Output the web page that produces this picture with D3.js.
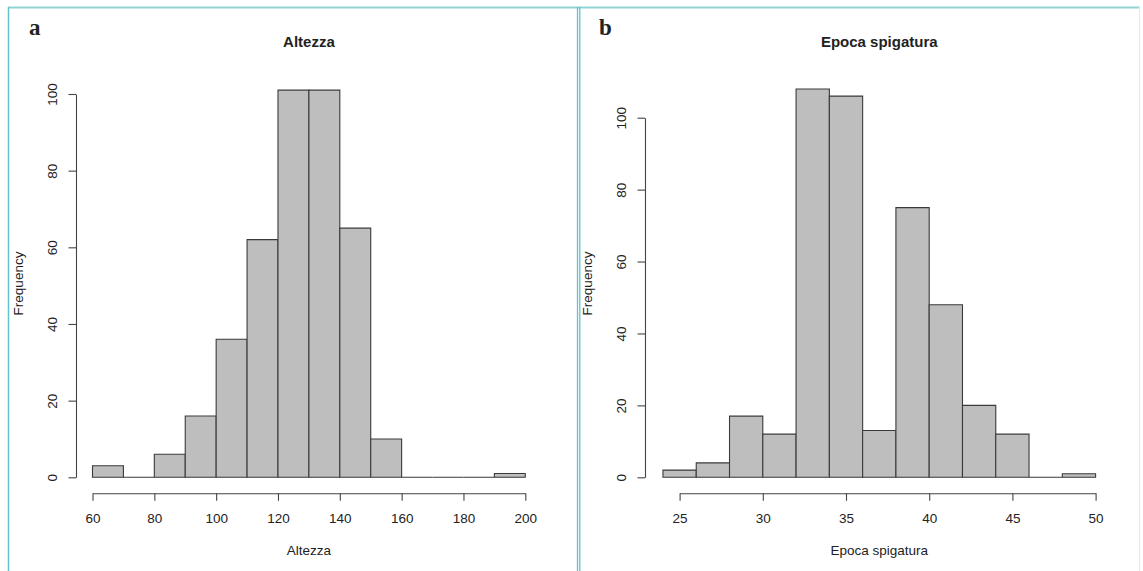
<!DOCTYPE html>
<html>
<head>
<meta charset="utf-8">
<script src="https://cdn.jsdelivr.net/npm/d3@7"></script>
<style>
  html, body { margin: 0; padding: 0; background: #ffffff; }
  svg { display: block; }
  text { font-family: "Liberation Sans", Arial, Helvetica, sans-serif; fill: #222; }
</style>
</head>
<body>
<svg id="fig" width="1143" height="571"></svg>
<script>
// Histogram of plant height (Altezza): bin edges and counts
const altezzaBreaks = [60, 70, 80, 90, 100, 110, 120, 130, 140, 150, 160, 170, 180, 190, 200];
const altezzaCounts = [3, 0, 6, 16, 36, 62, 101, 101, 65, 10, 0, 0, 0, 1];
const altezzaTicks = [60, 80, 100, 120, 140, 160, 180, 200];

// Histogram of heading time (Epoca spigatura): bin edges and counts
const epocaBreaks = [24, 26, 28, 30, 32, 34, 36, 38, 40, 42, 44, 46, 48, 50];
const epocaCounts = [2, 4, 17, 12, 108, 106, 13, 75, 48, 20, 12, 0, 1];
const epocaTicks = [25, 30, 35, 40, 45, 50];

const freqTicks = [0, 20, 40, 60, 80, 100];

const svg = d3.select("#fig");

// panel frames
const frame = svg.append("g").attr("fill", "none");
frame.append("line").attr("x1", 8).attr("x2", 1140).attr("y1", 7.5).attr("y2", 7.5)
  .attr("stroke", "#8fd3d3").attr("stroke-width", 2);
frame.append("line").attr("x1", 8.5).attr("x2", 8.5).attr("y1", 7).attr("y2", 571)
  .attr("stroke", "#62c2cf").attr("stroke-width", 1.5);
frame.append("line").attr("x1", 577.5).attr("x2", 577.5).attr("y1", 7).attr("y2", 571)
  .attr("stroke", "#62c2cf").attr("stroke-width", 1.3);
frame.append("line").attr("x1", 579.8).attr("x2", 579.8).attr("y1", 7).attr("y2", 571)
  .attr("stroke", "#62c2cf").attr("stroke-width", 1.3);
frame.append("line").attr("x1", 1139.5).attr("x2", 1139.5).attr("y1", 7).attr("y2", 571)
  .attr("stroke", "#d8eeee").attr("stroke-width", 1);

function histogram(cfg) {
  const g = svg.append("g");
  const x = d3.scaleLinear().domain(cfg.xDomain).range(cfg.xRange);
  const y = d3.scaleLinear().domain([0, 100]).range(cfg.yRange);

  const bins = cfg.counts.map((c, i) => ({ x0: cfg.breaks[i], x1: cfg.breaks[i + 1], n: c }));

  // each bin drawn as a closed path so empty bins still show as a flat outline
  g.append("g").selectAll("path").data(bins).join("path")
    .attr("d", d => {
      const p = d3.path();
      p.moveTo(x(d.x0), y(0));
      p.lineTo(x(d.x0), y(d.n));
      p.lineTo(x(d.x1), y(d.n));
      p.lineTo(x(d.x1), y(0));
      p.closePath();
      return p.toString();
    })
    .attr("fill", "#bebebe")
    .attr("stroke", "#3a3a3a")
    .attr("stroke-width", 1.1);

  // y axis (frequency), labels rotated as in base R graphics
  const yAxis = g.append("g")
    .attr("transform", `translate(${cfg.yAxisX},0)`)
    .call(d3.axisLeft(y).tickValues(freqTicks).tickSize(7.5).tickSizeOuter(0));
  yAxis.select(".domain").attr("stroke", "#444").attr("stroke-width", 1.1);
  yAxis.selectAll(".tick line").attr("stroke", "#444").attr("stroke-width", 1.1);
  yAxis.selectAll(".tick text")
    .attr("transform", "rotate(-90)")
    .attr("x", 0).attr("y", -19.5).attr("dy", 0)
    .attr("text-anchor", "middle")
    .style("font-size", "13.5px").style("font-family", "Liberation Sans, Arial, sans-serif")
    .attr("fill", "#222");

  // x axis
  const xAxis = g.append("g")
    .attr("transform", `translate(0,${cfg.xAxisY})`)
    .call(d3.axisBottom(x).tickValues(cfg.ticks).tickSize(7.5).tickSizeOuter(0));
  xAxis.select(".domain").attr("stroke", "#444").attr("stroke-width", 1.1);
  xAxis.selectAll(".tick line").attr("stroke", "#444").attr("stroke-width", 1.1);
  xAxis.selectAll(".tick text")
    .attr("y", 29.5).attr("dy", 0)
    .style("font-size", "13.5px").style("font-family", "Liberation Sans, Arial, sans-serif")
    .attr("fill", "#222");

  // titles and labels
  const cx = x((cfg.xDomainFull[0] + cfg.xDomainFull[1]) / 2);
  g.append("text").attr("x", cx).attr("y", 46.5).attr("text-anchor", "middle")
    .style("font-size", "15px").style("font-weight", "bold").text(cfg.title);
  g.append("text").attr("x", cx).attr("y", 555).attr("text-anchor", "middle")
    .style("font-size", "13.5px").text(cfg.xLabel);
  g.append("text")
    .attr("transform", `translate(${cfg.yAxisX - 53},283.5) rotate(-90)`)
    .attr("text-anchor", "middle")
    .style("font-size", "13.5px").text("Frequency");
  g.append("text").attr("x", cfg.letterX).attr("y", 35)
    .style("font-family", "Liberation Serif, Times New Roman, serif")
    .style("font-size", "23px").style("font-weight", "bold").attr("fill", "#000")
    .text(cfg.letter);
}

histogram({
  breaks: altezzaBreaks, counts: altezzaCounts, ticks: altezzaTicks,
  xDomain: [60, 200], xRange: [92.5, 525.3], xDomainFull: [60, 200],
  yRange: [477.3, 94], yAxisX: 76, xAxisY: 493.3,
  title: "Altezza", xLabel: "Altezza", letter: "a", letterX: 29
});

histogram({
  breaks: epocaBreaks, counts: epocaCounts, ticks: epocaTicks,
  xDomain: [25, 50], xRange: [679.6, 1095.6], xDomainFull: [24, 50],
  yRange: [477.3, 117.7], yAxisX: 645, xAxisY: 493.3,
  title: "Epoca spigatura", xLabel: "Epoca spigatura", letter: "b", letterX: 599
});
</script>
</body>
</html>
